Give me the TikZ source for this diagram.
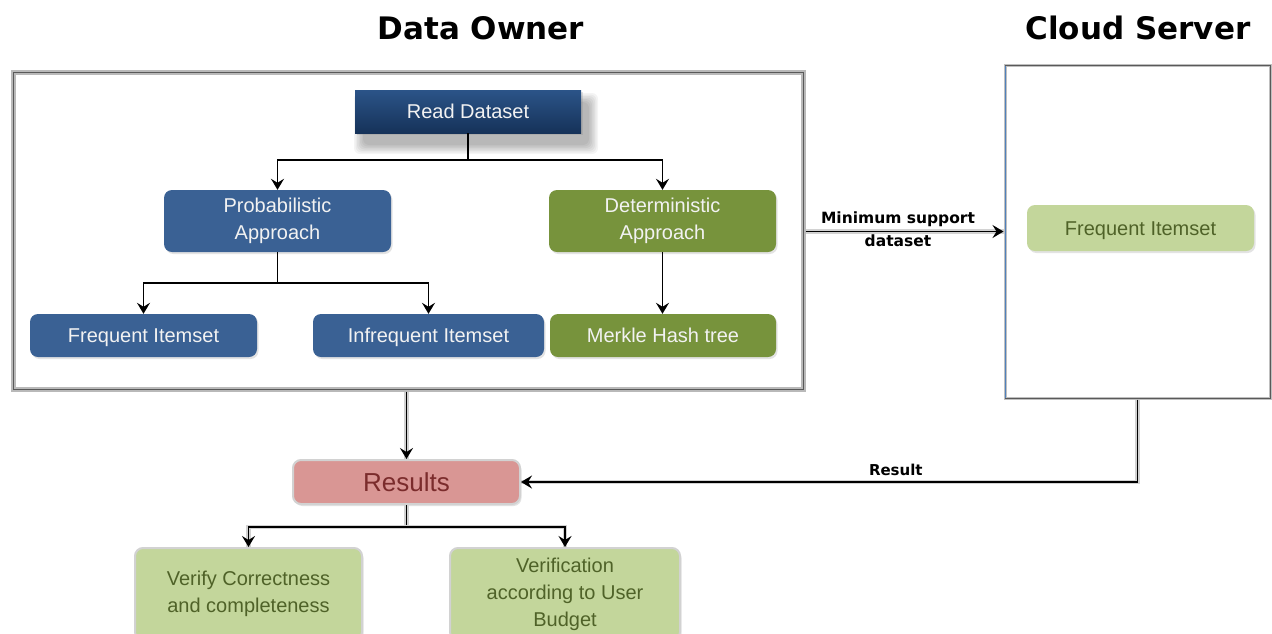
\documentclass[tikz,border=0pt]{standalone}
\usepackage{fontspec}
\setmainfont{Liberation Sans}
\newfontfamily\dvs{DejaVu Sans}
\usetikzlibrary{arrows.meta,shadows,positioning}
\definecolor{pblue}{HTML}{3A6194}
\definecolor{pgreen}{HTML}{77933C}
\definecolor{lgreen}{HTML}{C3D69B}
\definecolor{lgtext}{HTML}{4F6228}
\definecolor{pink}{HTML}{D99694}
\definecolor{pinktext}{HTML}{7B2C2C}
\definecolor{navytop}{HTML}{2B5488}
\definecolor{navybot}{HTML}{163259}
\definecolor{boxtext}{HTML}{F2F2F2}
\tikzset{
  base/.style={inner sep=0pt, align=center, font=\fontsize{20}{27}\selectfont,
    drop shadow={opacity=0.22, shadow xshift=1.5pt, shadow yshift=-2pt}},
  one/.style={text height=14.4pt, text depth=0pt},
  bluebox/.style={base, rounded corners=8pt, fill=pblue, text=boxtext},
  greenbox/.style={base, rounded corners=8pt, fill=pgreen, text=boxtext},
  lightbox/.style={base, rounded corners=8pt, fill=lgreen, text=lgtext},
  framebox/.style={inner sep=0pt},
  conn/.style={line width=1.7pt, black},
  arr/.style={conn, -{Stealth[length=11pt,width=13pt,inset=4pt]}},
  halo/.style={preaction={draw, gray!35, line width=4.5pt, -}},
  title/.style={font=\dvs\bfseries\fontsize{31}{36}\selectfont},
  lbl/.style={font=\dvs\bfseries\fontsize{15.5}{18}\selectfont, inner sep=0pt}
}
\begin{document}
\begin{tikzpicture}[x=1pt,y=-1pt]
\useasboundingbox[fill=white] (0,0) rectangle (1272,633);
\clip (0,0) rectangle (1272,633);

% titles
\node[title] (t1) at (481,28) {Data Owner};
\node[title] (t2) at (1138,28) {Cloud Server};

% frames
\node[framebox, minimum width=790pt, minimum height=317pt, draw=gray!55, line width=5pt, fill=white] (dobox) at (408,230.5) {};
\draw[gray!70!black, line width=0.8pt] ([xshift=2.5pt,yshift=-2.5pt]dobox.north west) rectangle ([xshift=-2.5pt,yshift=2.5pt]dobox.south east);
\node[framebox, minimum width=265pt, minimum height=333pt, draw=gray!50, line width=3pt, fill=white] (csbox) at (1137.5,231.5) {};
\draw[gray!70!black, line width=0.8pt] ([xshift=1.5pt,yshift=-1.5pt]csbox.north west) rectangle ([xshift=-1.5pt,yshift=1.5pt]csbox.south east);
\draw[color={rgb,255:red,79;green,129;blue,189}, line width=1.2pt] ([xshift=2pt,yshift=-2pt]csbox.north west) -- ([xshift=2pt,yshift=2pt]csbox.south west);

% soft shadow of Read Dataset
\foreach \i in {0,...,6} {
  \fill[black, opacity=0.045, rounded corners=6pt]
    (355+8-\i*1.5, 90+12-\i*1.5) rectangle (581+8+\i*1.5, 133+12+\i*1.5);
}

% nodes
\node[base, one, minimum width=226pt, minimum height=43pt, top color=navytop, bottom color=navybot, text=boxtext,
  drop shadow={opacity=0}] (rd) at (468,111.5) {Read Dataset};
\node[bluebox, minimum width=227pt, minimum height=62pt] (prob) at (277.5,221) {Probabilistic\\Approach};
\node[greenbox, minimum width=227pt, minimum height=62pt] (det) at (662.5,221) {Deterministic\\Approach};
\node[bluebox, one, minimum width=227pt, minimum height=43pt] (fi) at (143.5,335.5) {Frequent Itemset};
\node[bluebox, one, minimum width=231pt, minimum height=43pt] (ifi) at (428.5,335.5) {Infrequent Itemset};
\node[greenbox, one, minimum width=226pt, minimum height=43pt] (mht) at (663,335.5) {Merkle Hash tree};
\node[lightbox, one, minimum width=227pt, minimum height=46pt] (cfi) at (1140.5,228) {Frequent Itemset};
\node[base, rounded corners=8pt, fill=pink, text=pinktext, draw=gray!35, line width=2pt,
  minimum width=227pt, minimum height=44pt, font=\fontsize{26}{30}\selectfont, text height=18.6pt, text depth=0pt] (res) at (406.5,482) {Results};
\node[lightbox, draw=gray!35, line width=2pt, minimum width=227pt, minimum height=92pt] (vc) at (248.5,594) {Verify Correctness\\and completeness};
\node[lightbox, draw=gray!35, line width=2pt, minimum width=230pt, minimum height=92pt] (vb) at (565,594) {Verification\\according to User\\Budget};

% connectors inside data owner
\coordinate (j1) at (468,160);
\draw[conn] (rd.south) -- (j1);
\draw[arr] (j1) -| (prob.north);
\draw[arr] (j1) -| (det.north);
\coordinate (j2) at (277.5,283);
\draw[conn] (prob.south) -- (j2);
\draw[arr] (j2) -| (fi.north);
\draw[arr] (j2) -| (ifi.north);
\draw[arr] (det.south) -- (det.south |- mht.north);

% between frames
\draw[arr, halo] (dobox.east |- csbox.west) -- (csbox.west);
\node[lbl] (l1) at (898,219) {Minimum support};
\node[lbl] (l2) at (898,241) {dataset};
\draw[arr, halo] (dobox.south -| res.north) -- (res.north);
\draw[arr, halo] (csbox.south) |- (res.east)
  node[lbl, font=\dvs\bfseries\fontsize{15}{18}\selectfont, pos=0.696, above=5pt] (l3) {Result};

% results to children
\coordinate (j3) at (406.5,527);
\draw[conn, halo] (res.south) -- (j3);
\draw[arr, halo] (j3) -| (vc.north);
\draw[arr, halo] (j3) -| (vb.north);
\end{tikzpicture}
\end{document}
